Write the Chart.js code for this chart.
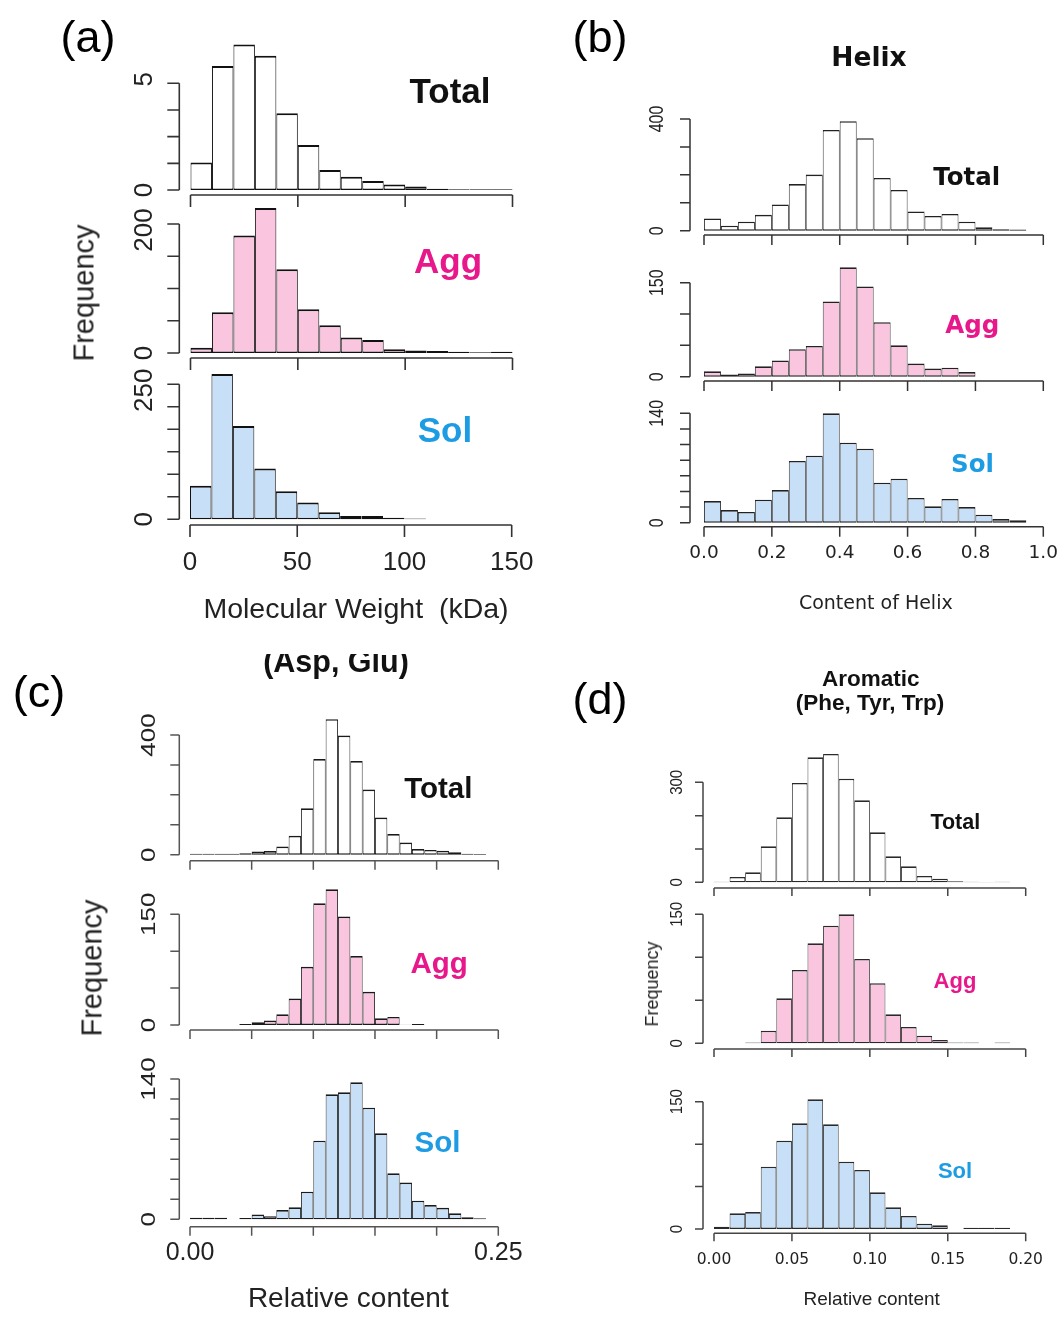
<!DOCTYPE html>
<html>
<head>
<meta charset="utf-8">
<title>Protein property histograms</title>
<script src="https://cdn.jsdelivr.net/npm/chart.js@4.4.1/dist/chart.umd.min.js"></script>
<style>
  html, body { margin: 0; padding: 0; background: #fff; }
  #fig { position: relative; width: 1061px; height: 1319px; overflow: hidden; background: #fff; }
  #fig canvas { position: absolute; left: 0; top: 0; }
  .t { position: absolute; white-space: pre; transform: translate(-50%, -50%); }
  .t.r { transform: translate(-50%, -50%) rotate(-90deg); }
</style>
</head>
<body>
<div id="fig"></div>
<script>
// ---------------- data ----------------
// (a) molecular weight, 10 kDa bins (lower bin edges)
const mwBinStarts    = [0, 10, 20, 30, 40, 50, 60, 70, 80, 90, 100, 110, 120, 130, 140];
const mwSolBinStarts = [0, 10, 20, 30, 40, 50, 60, 70, 80, 90, 100];
const mwTotal = [103, 465, 545, 503, 288, 169, 75, 50, 34, 21, 13, 5, 3, 3, 3];
const mwAgg   = [8, 63, 182, 225, 130, 68, 43, 24, 20, 6, 4, 3, 2, 1, 2];
const mwSol   = [62, 269, 173, 94, 52, 31, 13, 6, 6, 3, 1.5];
const mwTicks = [0, 50, 100, 150];
const mwTickLabels = ['0', '50', '100', '150'];
const mwTotalYTicks = [0, 100, 200, 300, 400];
const mwTotalYLabels = ['0', '', '', '', '5'];
const mwAggYTicks = [0, 50, 100, 150, 200];
const mwAggYLabels = ['0', '', '', '', '200'];
const mwSolYTicks = [0, 41.67, 83.33, 125, 166.67, 208.33, 250];
const mwSolYLabels = ['0', '', '', '', '', '', '250'];

// (b) helix content, 0.05 bins
const hxBinStarts    = [0, 0.05, 0.10, 0.15, 0.20, 0.25, 0.30, 0.35, 0.40, 0.45, 0.50, 0.55, 0.60, 0.65, 0.70, 0.75, 0.80, 0.85, 0.90];
const hxAggBinStarts = [0, 0.05, 0.10, 0.15, 0.20, 0.25, 0.30, 0.35, 0.40, 0.45, 0.50, 0.55, 0.60, 0.65, 0.70, 0.75];
const hxTotal = [44, 18, 32, 57, 94, 167, 201, 361, 392, 331, 189, 146, 69, 53, 60, 32, 12, 5, 4];
const hxAgg   = [8.5, 3.7, 5.3, 16.5, 26, 44, 49, 120, 174.5, 144, 87, 50, 21, 13, 14.4, 7.4];
const hxSol   = [27.7, 16.2, 13.7, 29.4, 41.8, 79, 85.8, 140, 102.4, 94.7, 51.2, 56.3, 31.6, 20.9, 30.3, 20, 10.2, 4.7, 3];
const hxTicks = [0, 0.2, 0.4, 0.6, 0.8, 1.0];
const hxTickLabels = ['0.0', '0.2', '0.4', '0.6', '0.8', '1.0'];
const hxTotalYTicks = [0, 100, 200, 300, 400];
const hxTotalYLabels = ['0', '', '', '', '400'];
const hxAggYTicks = [0, 50, 100, 150];
const hxAggYLabels = ['0', '', '', '150'];
const hxSolYTicks = [0, 20, 40, 60, 80, 100, 120, 140];
const hxSolYLabels = ['0', '', '', '', '', '', '', '140'];

// (c) acidic residues (Asp, Glu), 0.01 bins
const acBinStarts    = [0, 0.01, 0.02, 0.03, 0.04, 0.05, 0.06, 0.07, 0.08, 0.09, 0.10, 0.11, 0.12, 0.13, 0.14, 0.15, 0.16, 0.17, 0.18, 0.19, 0.20, 0.21, 0.22, 0.23];
const acAggBinStarts = [0.04, 0.05, 0.06, 0.07, 0.08, 0.09, 0.10, 0.11, 0.12, 0.13, 0.14, 0.15, 0.16, 0.17, 0.18];
const acTotal = [3, 3, 3, 3, 5, 11, 12, 27, 63, 155, 320, 453, 398, 313, 218, 124, 69, 41, 19, 16, 13, 8, 3, 2];
const acAgg   = [1.5, 3.6, 6, 14.5, 36, 79, 165, 184, 147, 93.5, 45, 9, 11, 0.3, 1.5];
const acSol   = [1.5, 1.5, 1.5, 0, 1.3, 4.7, 3, 9.3, 12, 27.6, 78.5, 124.7, 126.7, 136.7, 111.4, 85.8, 45.9, 36.6, 18.6, 14.3, 11.6, 6, 2, 1];
const acTicks = [0, 0.05, 0.10, 0.15, 0.20, 0.25];
const acTickLabels = ['0.00', '', '', '', '', '0.25'];
const acTotalYTicks = [0, 100, 200, 300, 400];
const acTotalYLabels = ['0', '', '', '', '400'];
const acAggYTicks = [0, 50, 100, 150];
const acAggYLabels = ['0', '', '', '150'];
const acSolYTicks = [0, 20, 40, 60, 80, 100, 120, 140];
const acSolYLabels = ['0', '', '', '', '', '', '', '140'];

// (d) aromatic residues (Phe, Tyr, Trp), 0.01 bins
const arBinStarts    = [0, 0.01, 0.02, 0.03, 0.04, 0.05, 0.06, 0.07, 0.08, 0.09, 0.10, 0.11, 0.12, 0.13, 0.14, 0.15, 0.16, 0.17, 0.18];
const arAggBinStarts = [0.02, 0.03, 0.04, 0.05, 0.06, 0.07, 0.08, 0.09, 0.10, 0.11, 0.12, 0.13, 0.14, 0.15, 0.16, 0.17, 0.18];
const arTotal = [2, 16, 30, 108, 195, 298, 375, 385, 311, 246, 150, 78, 48, 19, 11, 3, 2, 1, 2];
const arAgg   = [1, 14.7, 52.3, 85.3, 116.3, 136.8, 150, 98, 69.8, 33.7, 19, 8.9, 3.9, 0.8, 0.8, 0, 0.8];
const arSol   = [2.7, 18.5, 20, 73.4, 104, 124.5, 152.8, 123.3, 79.3, 69.5, 43.2, 25.5, 15.3, 6.3, 4.3, 0, 1.5, 1.5, 1.5];
const arTicks = [0, 0.05, 0.10, 0.15, 0.20];
const arTickLabels = ['0.00', '0.05', '0.10', '0.15', '0.20'];
const arTotalYTicks = [0, 100, 200, 300];
const arTotalYLabels = ['0', '', '', '300'];
const arAggYTicks = [0, 50, 100, 150];
const arAggYLabels = ['0', '', '', '150'];
const arSolYTicks = [0, 50, 100, 150];
const arSolYLabels = ['0', '', '', '150'];

// ---------------- styles & layout ----------------
const W = 1061, H = 1319;
const SANS = "'Liberation Sans', Arial, Helvetica, sans-serif";
const DEJAVU = "'DejaVu Sans', Verdana, sans-serif";
const WHITE = '#FFFFFF', PINK = '#FAC6DF', BLUE = '#C8E0F7';
const MAGENTA = '#E8178A', SKY = '#1D9BE3';

const panels = {
  a: { yAxisX: 179.3, tick: 12, axisColor: '#333', axisWidth: 1.6, yLabelX: 145, yFont: `26px ${SANS}`, yScale: 1,
       xFont: `26px ${SANS}`, xLabelY: 563.3, stroke: '#111', bw: { top: 2, bottom: 1.6, left: 1, right: 1 } },
  b: { yAxisX: 690, tick: 10, axisColor: '#333', axisWidth: 1.5, yLabelX: 657.5, yFont: `16px ${SANS}`, yScale: 1.3,
       xFont: `18.5px ${DEJAVU}`, xLabelY: 553.3, stroke: '#222', bw: { top: 1.6, bottom: 1.4, left: 0.9, right: 0.9 } },
  c: { yAxisX: 179.3, tick: 9, axisColor: '#555', axisWidth: 1.5, yLabelX: 150, yFont: `26px ${SANS}`, yScale: 0.75,
       xFont: `25px ${SANS}`, xLabelY: 1253.3, stroke: '#1a1a1a', bw: { top: 1.7, bottom: 1.4, left: 0.9, right: 0.9 } },
  d: { yAxisX: 703, tick: 8, axisColor: '#444', axisWidth: 1.5, yLabelX: 677.5, yFont: `15px ${SANS}`, yScale: 1.1,
       xFont: `15.5px ${DEJAVU}`, xLabelY: 1260, stroke: '#2a2a2a', bw: { top: 1.6, bottom: 1.4, left: 0.9, right: 0.9 } }
};

// topDy nudges the label of the highest tick along the axis
const charts = [
  { panel: 'a', frame: { x0: 190.5, x1: 512.5, base: 190,   top: 83.3,  xAxisY: 195, topDy: -4 }, bins: mwBinStarts,    width: 10,   values: mwTotal, fill: WHITE, xTicks: mwTicks, xLabels: null,         yTicks: mwTotalYTicks, yLabels: mwTotalYLabels },
  { panel: 'a', frame: { x0: 190.5, x1: 512.5, base: 353,   top: 224,   xAxisY: 358, topDy: 6 },  bins: mwBinStarts,    width: 10,   values: mwAgg,   fill: PINK,  xTicks: mwTicks, xLabels: null,         yTicks: mwAggYTicks,   yLabels: mwAggYLabels },
  { panel: 'a', frame: { x0: 190,   x1: 511.7, base: 519.3, top: 384.3, xAxisY: 525, topDy: 6 },  bins: mwSolBinStarts, width: 10,   values: mwSol,   fill: BLUE,  xTicks: mwTicks, xLabels: mwTickLabels, yTicks: mwSolYTicks,   yLabels: mwSolYLabels },

  { panel: 'b', frame: { x0: 704, x1: 1043.3, base: 230.7, top: 119,   xAxisY: 235 },   bins: hxBinStarts,    width: 0.05, values: hxTotal, fill: WHITE, xTicks: hxTicks, xLabels: null,         yTicks: hxTotalYTicks, yLabels: hxTotalYLabels },
  { panel: 'b', frame: { x0: 704, x1: 1043.3, base: 376.7, top: 282.7, xAxisY: 381 },   bins: hxAggBinStarts, width: 0.05, values: hxAgg,   fill: PINK,  xTicks: hxTicks, xLabels: null,         yTicks: hxAggYTicks,   yLabels: hxAggYLabels },
  { panel: 'b', frame: { x0: 704, x1: 1043.3, base: 522.7, top: 413.3, xAxisY: 526.7 }, bins: hxBinStarts,    width: 0.05, values: hxSol,   fill: BLUE,  xTicks: hxTicks, xLabels: hxTickLabels, yTicks: hxSolYTicks,   yLabels: hxSolYLabels },

  { panel: 'c', frame: { x0: 190, x1: 498.3, base: 854.7,  top: 735,    xAxisY: 860.7 },  bins: acBinStarts,    width: 0.01, values: acTotal, fill: WHITE, xTicks: acTicks, xLabels: null,         yTicks: acTotalYTicks, yLabels: acTotalYLabels },
  { panel: 'c', frame: { x0: 190, x1: 498.3, base: 1025,   top: 914.3,  xAxisY: 1030 },   bins: acAggBinStarts, width: 0.01, values: acAgg,   fill: PINK,  xTicks: acTicks, xLabels: null,         yTicks: acAggYTicks,   yLabels: acAggYLabels },
  { panel: 'c', frame: { x0: 190, x1: 498.3, base: 1219.3, top: 1079,   xAxisY: 1226.7 }, bins: acBinStarts,    width: 0.01, values: acSol,   fill: BLUE,  xTicks: acTicks, xLabels: acTickLabels, yTicks: acSolYTicks,   yLabels: acSolYLabels },

  { panel: 'd', frame: { x0: 714, x1: 1025.7, base: 882.3,  top: 782.3,  xAxisY: 888 },    bins: arBinStarts,    width: 0.01, values: arTotal, fill: WHITE, xTicks: arTicks, xLabels: null,         yTicks: arTotalYTicks, yLabels: arTotalYLabels },
  { panel: 'd', frame: { x0: 714, x1: 1025.7, base: 1043.3, top: 914.3,  xAxisY: 1049 },   bins: arAggBinStarts, width: 0.01, values: arAgg,   fill: PINK,  xTicks: arTicks, xLabels: null,         yTicks: arAggYTicks,   yLabels: arAggYLabels },
  { panel: 'd', frame: { x0: 714, x1: 1025.7, base: 1229,   top: 1101.7, xAxisY: 1233.3 }, bins: arBinStarts,    width: 0.01, values: arSol,   fill: BLUE,  xTicks: arTicks, xLabels: arTickLabels, yTicks: arSolYTicks,   yLabels: arSolYLabels }
];

// ---------------- R-style detached axes ----------------
function rAxes(p, c) {
  return {
    id: 'rAxes',
    afterDatasetsDraw(chart) {
      const ctx = chart.ctx;
      const xs = chart.scales.x, ys = chart.scales.y;
      const yv = ys.ticks.map(t => t.value);
      const xv = xs.ticks.map(t => t.value);
      ctx.save();
      ctx.strokeStyle = p.axisColor;
      ctx.lineWidth = p.axisWidth;
      ctx.beginPath();
      // left axis: line spans first to last tick
      const ax = p.yAxisX;
      ctx.moveTo(ax, ys.getPixelForValue(yv[0]));
      ctx.lineTo(ax, ys.getPixelForValue(yv[yv.length - 1]));
      yv.forEach(v => {
        const py = ys.getPixelForValue(v);
        ctx.moveTo(ax - p.tick, py);
        ctx.lineTo(ax, py);
      });
      // bottom axis, set a little below the bars
      const ay = c.frame.xAxisY;
      ctx.moveTo(xs.getPixelForValue(xv[0]), ay);
      ctx.lineTo(xs.getPixelForValue(xv[xv.length - 1]), ay);
      xv.forEach(v => {
        const px = xs.getPixelForValue(v);
        ctx.moveTo(px, ay);
        ctx.lineTo(px, ay + p.tick);
      });
      ctx.stroke();

      ctx.fillStyle = '#222';
      ctx.textAlign = 'center';
      ctx.textBaseline = 'middle';
      ctx.font = p.yFont;
      yv.forEach((v, i) => {
        const s = c.yLabels[i];
        if (!s) return;
        const dy = (i === yv.length - 1 && c.frame.topDy) ? c.frame.topDy : 0;
        ctx.save();
        ctx.translate(p.yLabelX, ys.getPixelForValue(v) + dy);
        ctx.rotate(-Math.PI / 2);
        ctx.scale(1, p.yScale);
        ctx.fillText(s, 0, 0);
        ctx.restore();
      });
      if (c.xLabels) {
        ctx.font = p.xFont;
        xv.forEach((v, i) => {
          const s = c.xLabels[i];
          if (s) ctx.fillText(s, xs.getPixelForValue(v), p.xLabelY);
        });
      }
      ctx.restore();
    }
  };
}

const fig = document.getElementById('fig');

charts.forEach(c => {
  const p = panels[c.panel];
  const f = c.frame;
  const cv = document.createElement('canvas');
  cv.width = W; cv.height = H;
  cv.style.width = W + 'px'; cv.style.height = H + 'px';
  fig.appendChild(cv);
  new Chart(cv, {
    type: 'bar',
    data: {
      datasets: [{
        data: c.bins.map((b, i) => ({ x: b + c.width / 2, y: c.values[i] })),
        backgroundColor: c.fill,
        borderColor: p.stroke,
        borderWidth: p.bw,
        borderSkipped: false,
        inflateAmount: 0,
        barPercentage: 1,
        categoryPercentage: 1,
        clip: false
      }]
    },
    options: {
      responsive: false,
      animation: false,
      devicePixelRatio: 1,
      events: [],
      layout: { padding: { left: f.x0, right: W - f.x1, top: f.top, bottom: H - f.base } },
      scales: {
        x: {
          type: 'linear', display: false, offset: false,
          min: c.xTicks[0], max: c.xTicks[c.xTicks.length - 1],
          ticks: { autoSkip: false },
          afterBuildTicks: s => { s.ticks = c.xTicks.map(v => ({ value: v })); }
        },
        y: {
          type: 'linear', display: false, offset: false,
          min: 0, max: c.yTicks[c.yTicks.length - 1],
          ticks: { autoSkip: false },
          afterBuildTicks: s => { s.ticks = c.yTicks.map(v => ({ value: v })); }
        }
      },
      plugins: { legend: { display: false }, tooltip: { enabled: false } }
    },
    plugins: [rAxes(p, c)]
  });
});

// ---------------- text ----------------
function addText(s, x, y, font, color, rot) {
  const d = document.createElement('div');
  d.className = 't' + (rot ? ' r' : '');
  d.textContent = s;
  d.style.font = font;
  d.style.lineHeight = '1';
  d.style.color = color || '#000';
  d.style.left = x + 'px';
  d.style.top = y + 'px';
  fig.appendChild(d);
  return d;
}

// panel letters
addText('(a)', 88, 36, `45px ${SANS}`, '#000');
addText('(b)', 600, 36, `45px ${SANS}`, '#000');
addText('(c)', 39, 690.5, `45px ${SANS}`, '#000');
addText('(d)', 600, 698, `45px ${SANS}`, '#000');

// (a)
addText('Frequency', 84, 293, `29px ${SANS}`, '#222', true);
addText('Total', 450, 90, `bold 35px ${SANS}`, '#111');
addText('Agg', 448, 260, `bold 35px ${SANS}`, MAGENTA);
addText('Sol', 445, 429, `bold 35px ${SANS}`, SKY);
addText('Molecular Weight  (kDa)', 356, 608.3, `28.5px ${SANS}`, '#222');

// (b)
addText('Helix', 869, 57, `bold 26.5px ${DEJAVU}`, '#111');
addText('Total', 966.7, 176.7, `bold 24.5px ${DEJAVU}`, '#111');
addText('Agg', 972.3, 325.3, `bold 24.5px ${DEJAVU}`, MAGENTA);
addText('Sol', 972.5, 464.2, `bold 24.5px ${DEJAVU}`, SKY);
addText('Content of Helix', 875.8, 601.7, `19px ${DEJAVU}`, '#222');

// (c) title, its upper edge trimmed by the panel above
const clip = document.createElement('div');
clip.style.cssText = 'position:absolute;left:200px;top:654px;width:280px;height:40px;overflow:hidden;';
fig.appendChild(clip);
const ttl = document.createElement('div');
ttl.className = 't';
ttl.textContent = '(Asp, Glu)';
ttl.style.font = `bold 30.5px ${SANS}`;
ttl.style.lineHeight = '1';
ttl.style.color = '#111';
ttl.style.left = (336 - 200) + 'px';
ttl.style.top = (660.8 - 654) + 'px';
clip.appendChild(ttl);

addText('Frequency', 92, 968, `29px ${SANS}`, '#222', true);
addText('Total', 438.3, 787.5, `bold 29.5px ${SANS}`, '#111');
addText('Agg', 439.2, 962.5, `bold 29.5px ${SANS}`, MAGENTA);
addText('Sol', 437.5, 1141.7, `bold 29.5px ${SANS}`, SKY);
addText('Relative content', 348.3, 1297.5, `28px ${SANS}`, '#222');

// (d)
addText('Aromatic', 870.8, 679, `bold 22.5px ${SANS}`, '#111');
addText('(Phe, Tyr, Trp)', 870, 703.3, `bold 22.5px ${SANS}`, '#111');
addText('Total', 955.3, 822.8, `bold 21.5px ${SANS}`, '#111');
addText('Agg', 955, 981.3, `bold 22px ${SANS}`, MAGENTA);
addText('Sol', 955, 1170.8, `bold 22px ${SANS}`, SKY);
addText('Frequency', 652, 984.2, `18px ${SANS}`, '#222', true);
addText('Relative content', 871.7, 1298.3, `19px ${SANS}`, '#222');
</script>
</body>
</html>
